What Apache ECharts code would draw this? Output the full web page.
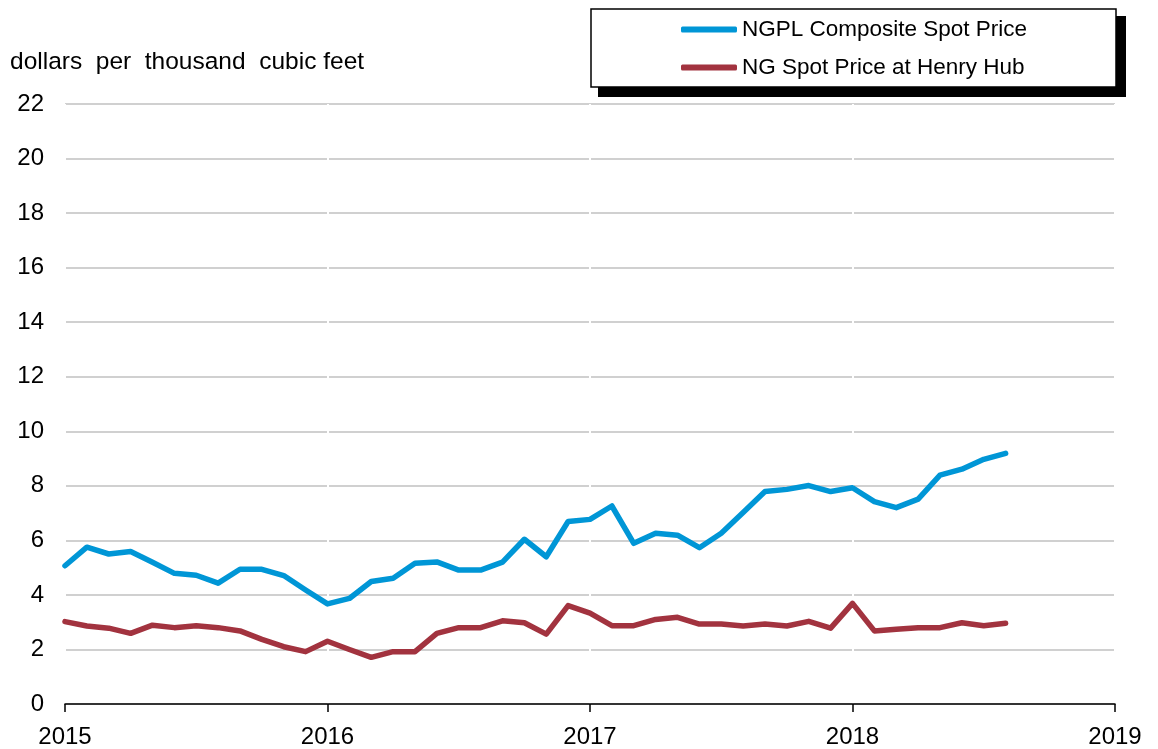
<!DOCTYPE html>
<html>
<head>
<meta charset="utf-8">
<script src="https://cdn.jsdelivr.net/npm/echarts@6/dist/echarts.min.js"></script>
<style>
  html, body { margin: 0; padding: 0; background: #fff; }
  #chart { width: 1158px; height: 749px; }
</style>
</head>
<body>
<div id="chart"></div>
<script>
// Month categories Jan 2015 .. Jan 2019
const months = [
  "2015-01","2015-02","2015-03","2015-04","2015-05","2015-06","2015-07","2015-08","2015-09","2015-10","2015-11","2015-12",
  "2016-01","2016-02","2016-03","2016-04","2016-05","2016-06","2016-07","2016-08","2016-09","2016-10","2016-11","2016-12",
  "2017-01","2017-02","2017-03","2017-04","2017-05","2017-06","2017-07","2017-08","2017-09","2017-10","2017-11","2017-12",
  "2018-01","2018-02","2018-03","2018-04","2018-05","2018-06","2018-07","2018-08","2018-09","2018-10","2018-11","2018-12",
  "2019-01"
];

const ngplComposite = [
  5.07, 5.75, 5.50, 5.59, 5.20, 4.79, 4.72, 4.43, 4.94, 4.94, 4.71, 4.18,
  3.67, 3.87, 4.49, 4.61, 5.16, 5.21, 4.91, 4.91, 5.20, 6.04, 5.40, 6.69,
  6.77, 7.26, 5.89, 6.26, 6.19, 5.73, 6.26, 7.02, 7.79, 7.87, 8.01, 7.79,
  7.93, 7.42, 7.20, 7.51, 8.39, 8.61, 8.97, 9.19
];

const henryHub = [
  3.02, 2.86, 2.78, 2.59, 2.89, 2.80, 2.87, 2.80, 2.68, 2.37, 2.10, 1.92,
  2.30, 2.00, 1.71, 1.92, 1.92, 2.59, 2.80, 2.80, 3.05, 2.98, 2.56, 3.61,
  3.33, 2.87, 2.87, 3.10, 3.18, 2.93, 2.93, 2.86, 2.93, 2.86, 3.03, 2.78,
  3.69, 2.68, 2.74, 2.80, 2.80, 2.98, 2.87, 2.96
];

const seriesNames = ["NGPL Composite Spot Price", "NG Spot Price at Henry Hub"];
const unitLabel = "dollars  per  thousand  cubic feet";

const FONT = "'Liberation Sans', Arial, sans-serif";
const chart = echarts.init(document.getElementById('chart'), null, { renderer: 'canvas' });

chart.setOption({
  animation: false,
  backgroundColor: '#ffffff',
  textStyle: { fontFamily: FONT },
  grid: { left: 65, right: 43, top: 104, bottom: 45, containLabel: false },
  graphic: [
    { type: 'rect', z: 100, shape: { x: 598, y: 16, width: 528, height: 81 }, style: { fill: '#000' } },
    { type: 'rect', z: 101, shape: { x: 591, y: 9, width: 525, height: 78 }, style: { fill: '#fff', stroke: '#000', lineWidth: 1.5 } },
    { type: 'text', z: 102, x: 10, y: 62, style: { text: unitLabel, font: "24.5px " + FONT, fill: '#000', verticalAlign: 'middle', align: 'left' } }
  ],
  legend: {
    orient: 'vertical',
    left: 681,
    top: 18,
    padding: 0,
    z: 110,
    itemWidth: 56,
    itemHeight: 6,
    itemGap: 15,
    icon: 'roundRect',
    textStyle: { fontSize: 22.5, color: '#000', fontFamily: FONT, lineHeight: 23 },
    data: seriesNames
  },
  xAxis: {
    type: 'category',
    data: months,
    boundaryGap: false,
    axisLine: { lineStyle: { color: '#000', width: 1.5 } },
    axisTick: { show: true, length: 8, interval: (i) => i % 12 === 0, lineStyle: { color: '#000', width: 1.5 } },
    axisLabel: {
      interval: (i) => i % 12 === 0,
      formatter: (v) => v.slice(0, 4),
      fontSize: 24, color: '#000', fontFamily: FONT, margin: 21
    },
    splitLine: { show: true, interval: (i) => i % 12 === 0, lineStyle: { color: '#ffffff', width: 2 } }
  },
  yAxis: {
    type: 'value',
    min: 0, max: 22, interval: 2,
    axisLine: { show: false },
    axisTick: { show: false },
    axisLabel: { fontSize: 24, color: '#000', fontFamily: FONT, margin: 21 },
    splitLine: { lineStyle: { color: '#c0c0c0', width: 1.5 } }
  },
  series: [
    {
      name: seriesNames[0], type: 'line', data: ngplComposite,
      symbol: 'none', color: '#0096d6',
      lineStyle: { width: 5.5, color: '#0096d6', cap: 'round', join: 'round' }, z: 3
    },
    {
      name: seriesNames[1], type: 'line', data: henryHub,
      symbol: 'none', color: '#a2333f',
      lineStyle: { width: 5.5, color: '#a2333f', cap: 'round', join: 'round' }, z: 2
    }
  ]
});
</script>
</body>
</html>
